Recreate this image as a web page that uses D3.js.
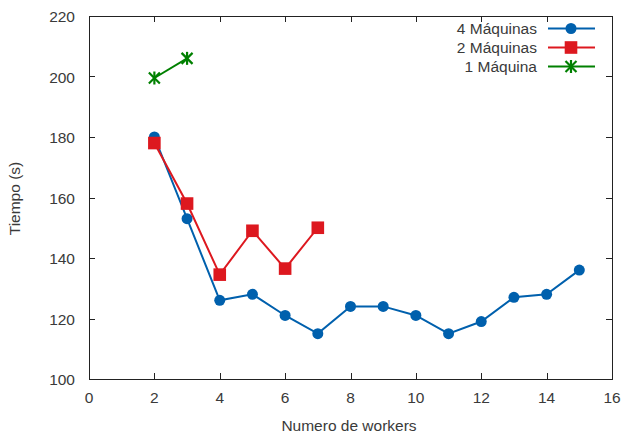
<!DOCTYPE html>
<html>
<head>
<meta charset="utf-8">
<script src="https://cdn.jsdelivr.net/npm/d3@7"></script>
<style>
  body { margin: 0; background: #fff; }
  svg { display: block; }
  text { font-family: "Liberation Sans", Arial, sans-serif; font-size: 15.5px; fill: #3a3a3a; }
</style>
</head>
<body>
<svg id="chart" width="624" height="434"></svg>
<script>
const xTicks = [0, 2, 4, 6, 8, 10, 12, 14, 16];
const yTicks = [100, 120, 140, 160, 180, 200, 220];

const workers4 = [2, 3, 4, 5, 6, 7, 8, 9, 10, 11, 12, 13, 14, 15];
const tiempo4 = [180, 153, 126, 128, 121, 115, 124, 124, 121, 115, 119, 127, 128, 136];
const workers2 = [2, 3, 4, 5, 6, 7];
const tiempo2 = [178, 158, 134.5, 149, 136.5, 150];
const workers1 = [2, 3];
const tiempo1 = [199.5, 206];

const seriesNames = ["4 Máquinas", "2 Máquinas", "1 Máquina"];
const seriesColors = ["#0060ad", "#dd181f", "#008000"];
const seriesShapes = ["circle", "square", "star"];

(function () {
  const svg = d3.select("#chart");
  const plotLeft = 89, plotRight = 612, plotTop = 16, plotBottom = 379;

  const x = d3.scaleLinear().domain([0, 16]).range([plotLeft, plotRight]);
  const y = d3.scaleLinear().domain([100, 220]).range([plotBottom, plotTop]);

  // tick marks, mirrored on all four sides, pointing inward
  const tickLen = 6;
  const ticks = svg.append("g").attr("stroke", "#222").attr("stroke-width", 1);
  xTicks.forEach(t => {
    const px = Math.round(x(t)) + 0.5;
    ticks.append("line").attr("x1", px).attr("x2", px).attr("y1", plotBottom).attr("y2", plotBottom - tickLen);
    ticks.append("line").attr("x1", px).attr("x2", px).attr("y1", plotTop).attr("y2", plotTop + tickLen);
  });
  yTicks.forEach(t => {
    const py = Math.round(y(t)) + 0.5;
    ticks.append("line").attr("x1", plotLeft).attr("x2", plotLeft + tickLen).attr("y1", py).attr("y2", py);
    ticks.append("line").attr("x1", plotRight).attr("x2", plotRight - tickLen).attr("y1", py).attr("y2", py);
  });

  svg.append("rect")
    .attr("x", plotLeft + 0.5).attr("y", plotTop + 0.5)
    .attr("width", plotRight - plotLeft).attr("height", plotBottom - plotTop)
    .attr("fill", "none").attr("stroke", "#222").attr("stroke-width", 1);

  svg.append("g").selectAll("text").data(xTicks).join("text")
    .attr("x", d => x(d)).attr("y", plotBottom + 24)
    .attr("text-anchor", "middle").text(d => d);

  svg.append("g").selectAll("text").data(yTicks).join("text")
    .attr("x", plotLeft - 14).attr("y", d => y(d) + 6)
    .attr("text-anchor", "end").text(d => d);

  svg.append("text").attr("x", 349).attr("y", 431)
    .attr("text-anchor", "middle").text("Numero de workers");

  svg.append("text")
    .attr("transform", `translate(20,${(plotTop + plotBottom) / 2 + 1}) rotate(-90)`)
    .attr("text-anchor", "middle").text("Tiempo (s)");

  function marker(g, shape, color, cx, cy) {
    if (shape === "circle") {
      g.append("circle").attr("cx", cx).attr("cy", cy).attr("r", 5.5).attr("fill", color);
    } else if (shape === "square") {
      g.append("rect").attr("x", cx - 6.3).attr("y", cy - 6.3).attr("width", 12.6).attr("height", 12.6).attr("fill", color);
    } else {
      const r = 5.5;
      const s = g.append("g").attr("stroke", color).attr("stroke-width", 2.2);
      s.append("line").attr("x1", cx - r).attr("x2", cx + r).attr("y1", cy - r).attr("y2", cy + r);
      s.append("line").attr("x1", cx - r).attr("x2", cx + r).attr("y1", cy + r).attr("y2", cy - r);
      s.append("line").attr("x1", cx).attr("x2", cx).attr("y1", cy - r - 1).attr("y2", cy + r + 1);
    }
  }

  const series = [
    { xs: workers4, ys: tiempo4 },
    { xs: workers2, ys: tiempo2 },
    { xs: workers1, ys: tiempo1 }
  ];

  const line = d3.line().x(d => x(d[0])).y(d => y(d[1]));

  series.forEach((s, i) => {
    const pts = s.xs.map((v, j) => [v, s.ys[j]]);
    const g = svg.append("g");
    g.append("path").attr("d", line(pts))
      .attr("fill", "none").attr("stroke", seriesColors[i]).attr("stroke-width", 2);
    pts.forEach(p => marker(g, seriesShapes[i], seriesColors[i], x(p[0]), y(p[1])));
  });

  // legend
  seriesNames.forEach((name, i) => {
    const ly = 28.5 + i * 19;
    svg.append("text").attr("x", 537).attr("y", ly + 5.5).attr("text-anchor", "end").text(name);
    const g = svg.append("g");
    g.append("line").attr("x1", 548).attr("x2", 595).attr("y1", ly).attr("y2", ly)
      .attr("stroke", seriesColors[i]).attr("stroke-width", 2);
    marker(g, seriesShapes[i], seriesColors[i], 571, ly);
  });
})();
</script>
</body>
</html>
